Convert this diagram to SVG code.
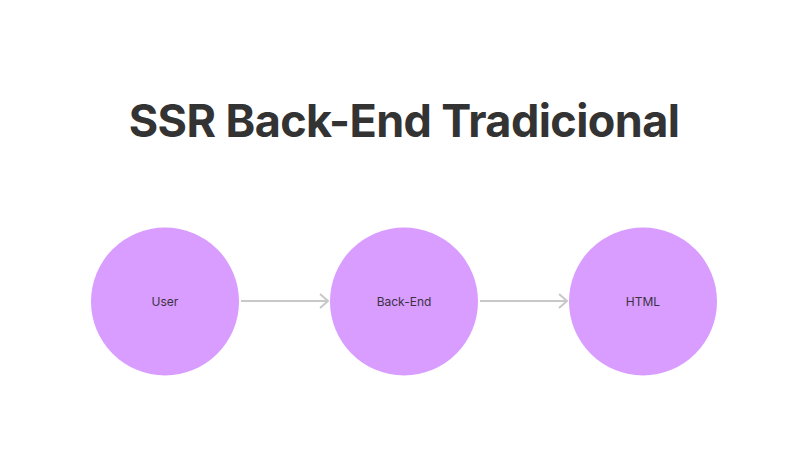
<svg xmlns="http://www.w3.org/2000/svg" width="808" height="466" viewBox="0 0 808 466">
<defs>
<style>
.node circle{fill:#D99CFF;}
.node text{font-family:Inter,"Noto Sans",sans-serif;font-size:12px;fill:#3a3340;text-anchor:middle;}
.title{font-family:Inter,"Noto Sans",sans-serif;font-size:45px;font-weight:700;fill:#333333;text-anchor:middle;letter-spacing:-0.6px;}
.conn{stroke:#C8C8C8;stroke-width:2;fill:none;}
</style>
<marker id="arr" viewBox="0 0 10 16" refX="9" refY="8" markerWidth="10" markerHeight="16" markerUnits="userSpaceOnUse" orient="auto">
<path d="M1,1 L9,8 L1,15" stroke="#C8C8C8" stroke-width="2" fill="none"/>
</marker>
</defs>
<rect width="808" height="466" fill="#FFFFFF"/>
<text class="title" x="404" y="136.5">SSR Back-End Tradicional</text>
<g id="connectors">
<line class="conn" x1="241" y1="301" x2="328" y2="301" marker-end="url(#arr)"/>
<line class="conn" x1="480" y1="301" x2="567" y2="301" marker-end="url(#arr)"/>
</g>
<g id="node-user" class="node">
<circle cx="165" cy="301.5" r="74"/>
<text x="165" y="305.5">User</text>
</g>
<g id="node-backend" class="node">
<circle cx="404" cy="301.5" r="74"/>
<text x="404" y="305.5">Back-End</text>
</g>
<g id="node-html" class="node">
<circle cx="643" cy="301.5" r="74"/>
<text x="643" y="305.5">HTML</text>
</g>
</svg>
